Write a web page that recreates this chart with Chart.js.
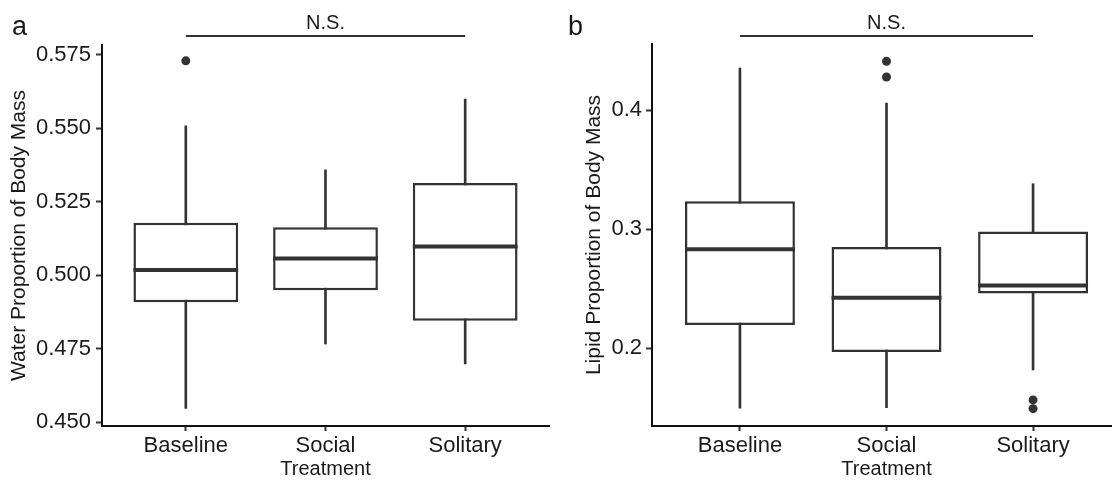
<!DOCTYPE html>
<html>
<head>
<meta charset="utf-8">
<script src="https://cdn.jsdelivr.net/npm/chart.js@4.4.1/dist/chart.umd.min.js"></script>
<style>
  html, body { margin: 0; padding: 0; background: #fff; }
  body { width: 1112px; height: 480px; overflow: hidden; position: relative; }
  canvas { position: absolute; top: 0; }
  #water { left: 0; }
  #lipid { left: 556px; }
</style>
</head>
<body>
<canvas id="water" width="560" height="480"></canvas>
<canvas id="lipid" width="600" height="480"></canvas>
<script>
const groups = ["Baseline", "Social", "Solitary"];

// water proportion: whisker ends, quartiles, medians, outliers
const waterLow = [0.4547, 0.4766, 0.4698];
const waterQ1 = [0.4908, 0.4949, 0.4845];
const waterMed = [0.5018, 0.5057, 0.5098];
const waterQ3 = [0.5179, 0.5164, 0.5314];
const waterHigh = [0.5509, 0.5359, 0.56];
const waterOut = [[0.573], [], []];
const waterTicks = [0.45, 0.475, 0.5, 0.525, 0.55, 0.575];

// lipid proportion
const lipidLow = [0.1497, 0.1502, 0.1818];
const lipidQ1 = [0.2195, 0.1969, 0.2461];
const lipidMed = [0.2832, 0.2424, 0.2528];
const lipidQ3 = [0.3235, 0.2852, 0.2981];
const lipidHigh = [0.4355, 0.4061, 0.3383];
const lipidOut = [[], [0.4411, 0.428], [0.1566, 0.1493]];
const lipidTicks = [0.2, 0.3, 0.4];

const FONT = "'Liberation Sans', Arial, Helvetica, sans-serif";
const INK = "#333333";
const TEXT = "#1a1a1a";
Chart.defaults.font.family = FONT;

// "N.S." bracket across the groups plus the panel letter
const bracket = {
  id: "bracket",
  afterDraw(chart, args, opts) {
    const ctx = chart.ctx;
    const x = chart.scales.x;
    const x1 = x.getPixelForValue(1);
    const x3 = x.getPixelForValue(3);
    ctx.save();
    ctx.strokeStyle = INK;
    ctx.lineWidth = 2;
    ctx.beginPath();
    ctx.moveTo(x1, opts.lineY);
    ctx.lineTo(x3, opts.lineY);
    ctx.stroke();
    ctx.fillStyle = TEXT;
    ctx.textBaseline = "alphabetic";
    ctx.textAlign = "center";
    ctx.font = "20px " + FONT;
    ctx.fillText(opts.label, x.getPixelForValue(2), opts.lineY - 7);
    ctx.textAlign = "left";
    ctx.font = "27px " + FONT;
    ctx.fillText(opts.panel, opts.panelX, opts.lineY - 1);
    ctx.restore();
  },
};

function boxChart(id, cfg) {
  const pts = (arr) => arr.map((v, i) => ({ x: i + 1, y: v }));
  const ranges = (lo, hi) => lo.map((v, i) => ({ x: i + 1, y: [v, hi[i]] }));

  let outliers = [];
  cfg.out.forEach((list, i) => list.forEach((v) => outliers.push({ x: i + 1, y: v })));

  return new Chart(document.getElementById(id), {
    type: "bar",
    data: {
      datasets: [
        {
          // medians, as a flat line the width of the box
          type: "line",
          order: 0,
          data: pts(cfg.med),
          showLine: false,
          pointStyle: "line",
          pointRadius: (c) => {
            const x = c.chart.scales.x;
            return (x.getPixelForValue(1.375) - x.getPixelForValue(1));
          },
          pointBorderWidth: 4,
          pointBorderColor: INK,
        },
        {
          type: "line",
          order: 1,
          data: outliers,
          showLine: false,
          pointRadius: 4.5,
          pointBorderWidth: 0,
          pointBackgroundColor: INK,
        },
        {
          order: 2,
          data: ranges(cfg.q1, cfg.q3),
          grouped: false,
          barPercentage: 0.75,
          categoryPercentage: 1,
          backgroundColor: "#ffffff",
          borderColor: INK,
          borderWidth: 2.5,
          borderSkipped: false,
        },
        {
          order: 3,
          data: ranges(cfg.low, cfg.high),
          grouped: false,
          barThickness: 2,
          backgroundColor: INK,
          borderWidth: 0,
        },
      ],
    },
    options: {
      responsive: false,
      animation: false,
      devicePixelRatio: 1,
      events: [],
      layout: { padding: { left: 0, top: cfg.top, right: cfg.right, bottom: 0 } },
      plugins: {
        legend: { display: false },
        tooltip: { enabled: false },
        bracket: { label: "N.S.", panel: cfg.panel, panelX: 12, lineY: 36 },
      },
      scales: {
        x: {
          type: "linear",
          min: 0.4,
          max: 3.6,
          offset: false,
          bounds: "data",
          afterBuildTicks: (s) => { s.ticks = groups.map((g, i) => ({ value: i + 1 })); },
          afterFit: (s) => { s.height = 54; },
          ticks: {
            color: TEXT,
            font: { size: 22 },
            padding: 2,
            callback: (v) => groups[Math.round(v) - 1],
          },
          grid: { offset: false, drawOnChartArea: false, drawTicks: true, tickLength: 5, tickWidth: 2, tickColor: INK },
          border: { display: true, color: "#111111", width: 2 },
          title: { display: true, text: "Treatment", color: TEXT, font: { size: 20 }, padding: { top: 0, bottom: -1 } },
        },
        y: {
          type: "linear",
          min: cfg.min,
          max: cfg.max,
          beginAtZero: false,
          bounds: "data",
          afterBuildTicks: (s) => { s.ticks = cfg.ticks.map((v) => ({ value: v })); },
          afterFit: (s) => { s.width = cfg.axisWidth; },
          ticks: {
            color: TEXT,
            font: { size: 22 },
            padding: cfg.tickPad,
            callback: (v) => v.toFixed(cfg.digits),
          },
          grid: { drawOnChartArea: false, drawTicks: true, tickLength: 6, tickWidth: 2, tickColor: INK },
          border: { display: true, color: "#111111", width: 2 },
          title: { display: true, text: cfg.title, color: TEXT, font: { size: 21 }, padding: { top: cfg.titlePad, bottom: 0 } },
        },
      },
    },
    plugins: [bracket],
  });
}

boxChart("water", {
  panel: "a",
  title: "Water Proportion of Body Mass",
  low: waterLow, q1: waterQ1, med: waterMed, q3: waterQ3, high: waterHigh, out: waterOut,
  ticks: waterTicks, digits: 3,
  min: 0.4487, max: 0.5784,
  top: 45, right: 11, axisWidth: 102, tickPad: 5, titlePad: 7,
});

boxChart("lipid", {
  panel: "b",
  title: "Lipid Proportion of Body Mass",
  low: lipidLow, q1: lipidQ1, med: lipidMed, q3: lipidQ3, high: lipidHigh, out: lipidOut,
  ticks: lipidTicks, digits: 1,
  min: 0.1347, max: 0.4557,
  top: 44, right: 35, axisWidth: 96, tickPad: 4, titlePad: 26,
});
</script>
</body>
</html>
